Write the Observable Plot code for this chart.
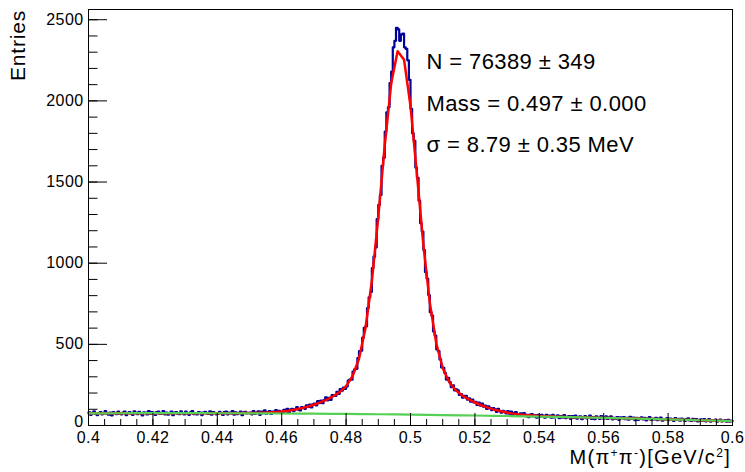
<!DOCTYPE html>
<html><head><meta charset="utf-8">
<script src="https://cdn.jsdelivr.net/npm/d3@7"></script>
<script src="https://cdn.jsdelivr.net/npm/@observablehq/plot@0.6"></script>
<style>
body{margin:0;background:#fff;}
#chart svg{display:block;}
#chart svg text{letter-spacing:0.4px;}
</style>
</head><body><div id="chart"></div>
<script>
// Histogram: 400 bins from 0.4 to 0.6 GeV/c^2 (bin width 0.0005)
const xMin = 0.4, xMax = 0.6, binWidth = 0.0005;
const binValues = [
 81,66,78,87,71,64,77,83,69,75,89,72,67,80,62,82,76,70,85,73,
 69,80,85,64,77,82,73,66,87,78,70,84,75,62,81,79,68,89,72,83,
 78,65,82,85,71,74,88,69,80,67,77,86,63,79,83,72,70,87,76,68,
 85,73,66,81,89,70,77,68,83,79,64,80,84,74,71,87,67,82,78,69,
 72,84,77,65,82,86,69,79,74,88,67,81,70,77,86,63,81,84,74,76,
 80,69,88,72,79,87,66,85,76,93,73,82,88,71,86,81,95,77,90,77,
 81,97,87,103,82,98,102,89,100,114,97,93,113,111,103,124,114,128,111,131,
 135,124,151,138,153,137,156,174,155,171,158,187,184,183,208,194,225,214,234,226,
 241,277,283,282,332,346,349,415,458,461,542,602,611,724,790,823,970,1040,1098,1272,
 1360,1420,1600,1650,1810,1930,1960,2110,2180,2330,2370,2450,2440,2370,2410,2415,2330,2320,2250,2130,
 1951,1800,1754,1589,1526,1385,1246,1195,1081,945,904,804,698,677,579,554,469,458,407,358,
 355,324,283,294,267,237,248,217,222,217,189,194,171,183,183,160,168,147,159,142,
 145,127,141,123,135,116,122,102,118,107,95,107,99,84,102,88,79,90,85,74,
 88,73,86,67,78,83,66,59,75,67,77,57,66,51,67,70,56,62,48,65,
 53,66,60,48,66,54,61,48,65,50,55,62,45,58,49,64,46,54,58,41,
 58,47,61,42,53,56,39,51,58,44,48,61,41,52,39,56,48,41,58,44,
 44,56,40,50,57,38,47,41,52,35,50,45,52,39,47,36,53,41,49,33,
 47,35,44,50,37,47,32,43,51,35,41,37,47,33,43,49,30,40,36,45,
 33,43,38,29,45,34,41,30,43,37,28,39,44,31,29,41,32,39,25,35,
 38,29,40,26,33,40,24,34,28,36,23,32,36,25,29,33,23,35,24,29
];
// Total fit (signal + background), sampled every 0.002
const fitStep = 0.002;
const fitValues = [
 75.0,75.2,75.3,75.4,75.5,75.6,75.7,75.8,75.9,75.9,76.0,76.0,76.0,76.0,76.0,76.0,75.9,75.9,75.8,75.7,
 75.8,75.8,75.9,76.1,76.4,76.8,77.6,78.9,80.7,83.2,86.7,91.5,97.7,105.7,115.7,128.0,142.5,159.8,180.2,205.9,
 242.7,303.3,411.1,597.3,890.1,1284.7,1726.1,2106.5,2306.1,2253.7,1968.3,1547.6,1113.4,755.4,506.6,354.4,268.1,218.1,185.9,161.8,
 141.8,124.8,110.2,98.0,87.8,79.7,73.2,68.1,64.0,60.9,58.4,56.5,54.8,53.6,52.4,51.4,50.4,49.4,48.5,47.7,
 46.8,46.0,45.1,44.2,43.3,42.4,41.4,40.5,39.5,38.6,37.6,36.6,35.6,34.5,33.5,32.4,31.4,30.3,29.2,28.1,27.0
];
// Background component, sampled every 0.01
const bkgStep = 0.01;
const bkgValues = [75,75.6,76,76,75.6,75,74,72.8,71.2,69.2,67,64.4,61.6,58.4,54.8,51,46.8,42.4,37.6,32.4,27];

const xTicks = [0.4,0.42,0.44,0.46,0.48,0.5,0.52,0.54,0.56,0.58,0.6];
const yTicks = [0,500,1000,1500,2000,2500];
const statLines = ["N = 76389 \u00B1 349", "Mass = 0.497 \u00B1 0.000", "\u03C3 = 8.79 \u00B1 0.35 MeV"];
const yTitle = "Entries";

const xMinor = d3.range(80, 121).map(k => k * 0.005);
const yMinor = d3.range(0, 2501, 100);

const hist = binValues.map((v, i) => ({x: xMin + i * binWidth, y: v}));
hist.push({x: xMax, y: binValues[binValues.length - 1]});
const fitPts = fitValues.map((v, k) => ({x: xMin + k * fitStep, y: v}));
const bkgPts = bkgValues.map((v, k) => ({x: xMin + k * bkgStep, y: v}));

const W = 745, H = 472, mL = 88, mR = 13, mT = 9, mB = 47;
const plotW = W - mL - mR, plotH = H - mT - mB;

const chart = Plot.plot({
  width: W, height: H,
  marginLeft: mL, marginRight: mR, marginTop: mT, marginBottom: mB,
  x: {domain: [xMin, xMax], label: null},
  y: {domain: [0, 2563], label: null},
  style: {fontFamily: "'Liberation Sans', Arial, Helvetica, sans-serif", fontSize: "16px", color: "black", background: "white"},
  marks: [
    Plot.line(hist, {x: "x", y: "y", curve: "step-after", stroke: "#00009c", strokeWidth: 2.2}),
    Plot.line(fitPts, {x: "x", y: "y", stroke: "#ff0000", strokeWidth: 2.5}),
    Plot.line(bkgPts, {x: "x", y: "y", curve: "natural", stroke: "#55d055", strokeWidth: 2.2}),
    Plot.ruleX(xMinor, {insetTop: plotH - 6, stroke: "black"}),
    Plot.ruleX(xTicks, {insetTop: plotH - 12, stroke: "black"}),
    Plot.ruleY(yMinor, {insetRight: plotW - 9.5, stroke: "black"}),
    Plot.ruleY(yTicks, {insetRight: plotW - 19, stroke: "black"}),
    Plot.axisX(xTicks, {tickSize: 0, tickPadding: 6, label: null, tickFormat: d => String(d)}),
    Plot.axisY(yTicks.slice(1), {tickSize: 0, tickPadding: 5, label: null, tickFormat: d3.format("d")}),
    Plot.axisY(yTicks.slice(0, 1), {tickSize: 0, tickPadding: 5, dy: -4, label: null, tickFormat: d3.format("d")}),
    Plot.frame({stroke: "black"}),
    Plot.text([statLines[0]], {frameAnchor: "top-left", dx: 338, dy: 44, textAnchor: "start", fontSize: 22, fill: "black", ariaLabel: "stats"}),
    Plot.text([statLines[1]], {frameAnchor: "top-left", dx: 338, dy: 85.7, textAnchor: "start", fontSize: 22, fill: "black", ariaLabel: "stats"}),
    Plot.text([statLines[2]], {frameAnchor: "top-left", dx: 338, dy: 127, textAnchor: "start", fontSize: 22, fill: "black", ariaLabel: "stats"})
  ]
});

document.getElementById("chart").appendChild(chart);
const svg = d3.select(chart);
svg.selectAll('g[aria-label="stats"] text').style("letter-spacing", "1.3px");

// Axis titles
svg.append("text")
  .attr("transform", "translate(25,10) rotate(-90)")
  .attr("text-anchor", "end")
  .attr("font-size", 21)
  .attr("fill", "black")
  .style("letter-spacing", "0.8px")
  .text(yTitle);

const xt = svg.append("text")
  .attr("x", 731).attr("y", 464)
  .attr("text-anchor", "end")
  .attr("font-size", 20)
  .attr("fill", "black")
  .style("letter-spacing", "1.3px");
xt.append("tspan").text("M(\u03C0");
xt.append("tspan").attr("font-size", 12).attr("dy", -7).text("+");
xt.append("tspan").attr("dy", 7).text("\u03C0");
xt.append("tspan").attr("font-size", 12).attr("dy", -7).text("-");
xt.append("tspan").attr("dy", 7).text(")[GeV/c");
xt.append("tspan").attr("font-size", 12).attr("dy", -7).text("2");
xt.append("tspan").attr("dy", 7).text("]");
</script>
</body></html>
